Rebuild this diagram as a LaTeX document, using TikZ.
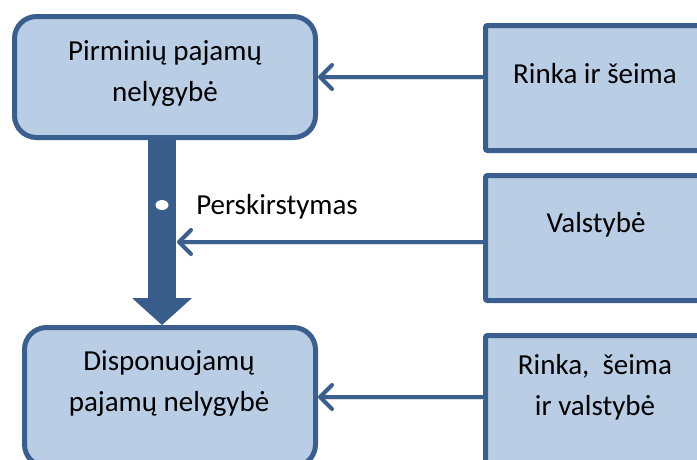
\documentclass[tikz,border=0pt]{standalone}
\usepackage{fontspec}
\setmainfont{Carlito}
\usetikzlibrary{arrows.meta}
\definecolor{boxline}{HTML}{3A5F8E}
\definecolor{boxfill}{HTML}{B9CDE5}
\definecolor{arrowfill}{HTML}{385D8A}
\tikzset{
  lbox/.style={draw=boxline, fill=boxfill, line width=5pt, rounded corners=22pt, inner sep=0pt},
  rbox/.style={draw=boxline, fill=boxfill, line width=5pt, rounded corners=2pt, inner sep=0pt, minimum width=232pt},
  txt/.style={align=center, inner sep=0pt, font=\fontsize{29}{41}\selectfont},
  feed/.style={draw=boxline, line width=4pt, {Straight Barb[length=12pt,width=24pt,round]}-,
    preaction={draw=black!30, opacity=0.45, transform canvas={xshift=1pt,yshift=-2.5pt}}},
}

\begin{document}
\begin{tikzpicture}[x=1pt,y=-1pt]
	%%%%% START %%%%%
	
	\useasboundingbox (0,0) rectangle (697,459);
	\clip (0,0) rectangle (697,459);
	
	\node[lbox, minimum width=301pt, minimum height=121pt] (prim) at (165,77) {};
	\node[lbox, minimum width=291pt, minimum height=139pt] (disp) at (170,397) {};
	
	\node[rbox, minimum height=125pt] (rinka) at (601.5,88) {};
	\node[rbox, minimum height=125pt] (valst) at (601.5,238) {};
	\node[rbox, minimum height=142pt] (visi) at (601.5,406.5) {};
	
	\node[txt] (primtxt) at (165,73.5) {Pirminių pajamų\\nelygybė};
	\node[txt] (disptxt) at (169,384) {Disponuojamų\\pajamų nelygybė};
	\node[txt] (rinkatxt) at (595,74) {Rinka ir šeima};
	\node[txt] (valsttxt) at (596,225) {Valstybė};
	\node[txt] (visitxt) at (595,387) {Rinka,\ \ šeima\\ir valstybė};
	
	% perskirstymas
	\coordinate (shaft) at (162,0);
	\draw[arrowfill, line width=28pt, -{Triangle[length=27pt,width=60pt,line width=0pt]}] (prim.south -| shaft) -- (disp.north -| shaft);
	\fill[white] (162,205) ellipse [x radius=6.5pt, y radius=5pt];
	\node[txt] (persk) at (277,207) {Perskirstymas};
	
	\coordinate (redist) at (177,242);
	\draw[feed] (prim.east) -- (prim.east -| rinka.west);
	\draw[feed] (redist) -- (redist -| valst.west);
	\draw[feed] (disp.east) -- (disp.east -| visi.west);
	
	%%%%% END %%%%%
\end{tikzpicture}
\end{document}
